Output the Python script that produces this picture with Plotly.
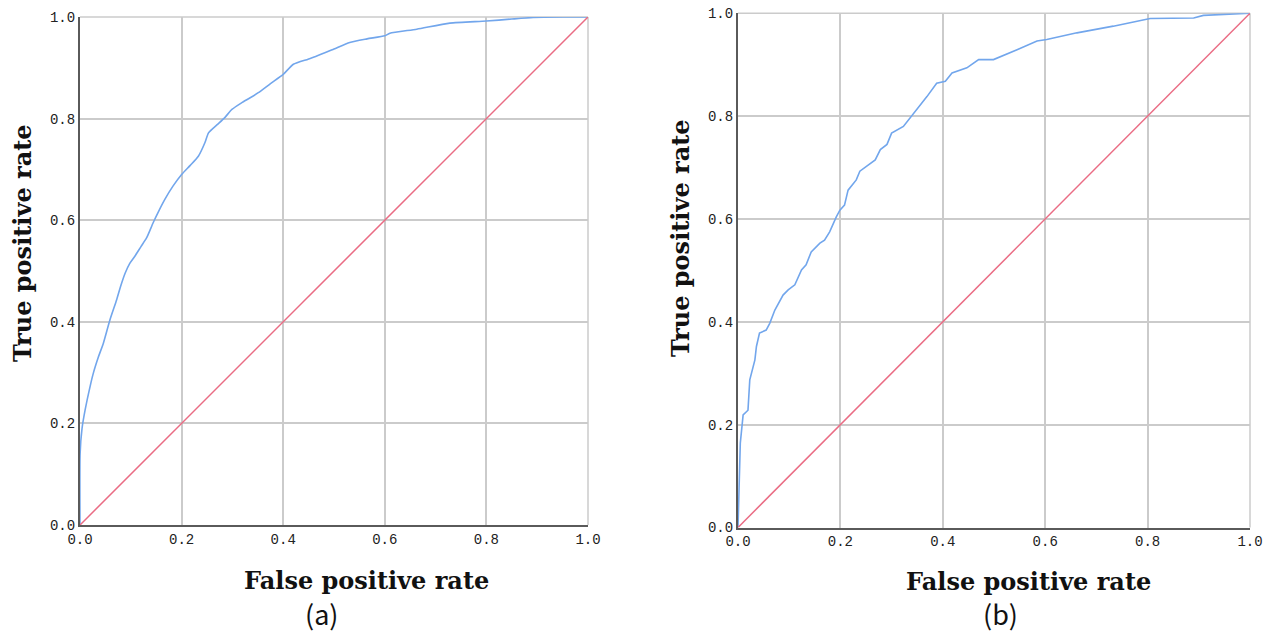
import plotly.graph_objects as go

# ROC curve (a)
fpr_a = [0.0, 0.0002, 0.004, 0.01, 0.0197, 0.026, 0.036, 0.046, 0.059, 0.072, 0.08, 0.089, 0.098,
         0.108, 0.12, 0.131, 0.144, 0.155, 0.167, 0.183, 0.2, 0.217, 0.233, 0.246, 0.253, 0.27,
         0.285, 0.299, 0.318, 0.335, 0.351, 0.375, 0.40, 0.42, 0.449, 0.466, 0.5, 0.531, 0.565,
         0.60, 0.61, 0.663, 0.728, 0.80, 0.85, 0.892, 0.95, 1.0]
tpr_a = [0.0, 0.14, 0.19, 0.226, 0.272, 0.298, 0.33, 0.358, 0.404, 0.443, 0.47, 0.496, 0.515,
         0.529, 0.548, 0.565, 0.595, 0.618, 0.641, 0.667, 0.69, 0.708, 0.726, 0.753, 0.772, 0.788,
         0.802, 0.818, 0.831, 0.841, 0.851, 0.869, 0.887, 0.907, 0.917, 0.923, 0.937, 0.95, 0.957,
         0.963, 0.968, 0.976, 0.988, 0.992, 0.996, 0.999, 1.0, 1.0]

# ROC curve (b)
fpr_b = [0.0, 0.003, 0.0045, 0.01, 0.0195, 0.023, 0.033, 0.036, 0.042, 0.055, 0.062, 0.072,
         0.088, 0.098, 0.111, 0.124, 0.133, 0.143, 0.16, 0.169, 0.179, 0.192, 0.199, 0.208,
         0.215, 0.231, 0.238, 0.268, 0.278, 0.291, 0.30, 0.323, 0.336, 0.352, 0.369, 0.388,
         0.405, 0.418, 0.447, 0.47, 0.499, 0.545, 0.584, 0.603, 0.662, 0.733, 0.773, 0.805,
         0.89, 0.909, 1.0]
tpr_b = [0.0, 0.105, 0.164, 0.219, 0.228, 0.287, 0.326, 0.352, 0.378, 0.384, 0.397, 0.423,
         0.452, 0.462, 0.472, 0.501, 0.511, 0.536, 0.553, 0.559, 0.575, 0.604, 0.617, 0.627,
         0.656, 0.676, 0.693, 0.715, 0.735, 0.745, 0.767, 0.780, 0.796, 0.816, 0.838, 0.864,
         0.868, 0.884, 0.894, 0.91, 0.91, 0.929, 0.946, 0.949, 0.962, 0.975, 0.983, 0.99,
         0.991, 0.996, 1.0]

diag = [0.0, 1.0]
tick_vals = [0.0, 0.2, 0.4, 0.6, 0.8, 1.0]
tick_text = ["0.0", "0.2", "0.4", "0.6", "0.8", "1.0"]
x_title = "False positive rate"
y_title = "True positive rate"
panel_labels = ["(a)", "(b)"]

W, H = 1282, 634
BLUE = "#72a6ec"
RED = "#ea6c84"
GRID = "#cbcbcb"
AXIS = "#5a5a5a"

fig = go.Figure()
fig.add_trace(go.Scatter(x=fpr_a, y=tpr_a, mode="lines", line=dict(color=BLUE, width=1.6, shape="spline", smoothing=0.6),
                         xaxis="x", yaxis="y", showlegend=False))
fig.add_trace(go.Scatter(x=diag, y=diag, mode="lines", line=dict(color=RED, width=1.5),
                         xaxis="x", yaxis="y", showlegend=False))
fig.add_trace(go.Scatter(x=fpr_b, y=tpr_b, mode="lines", line=dict(color=BLUE, width=1.6),
                         xaxis="x2", yaxis="y2", showlegend=False))
fig.add_trace(go.Scatter(x=diag, y=diag, mode="lines", line=dict(color=RED, width=1.5),
                         xaxis="x2", yaxis="y2", showlegend=False))

tickfont = dict(family="Liberation Mono, DejaVu Sans Mono, monospace", size=14, color="#222")

def ax(domain, anchor):
    return dict(domain=domain, anchor=anchor, range=[0, 1], tickvals=tick_vals, ticktext=tick_text,
                showgrid=True, gridcolor=GRID, gridwidth=1.5, zeroline=False,
                showline=True, linecolor=AXIS, linewidth=2, ticks="", tickfont=tickfont,
                fixedrange=True, automargin=False)

# pixel-based domains
xa_dom = [80 / W, 588 / W]
ya_dom = [(H - 525) / H, (H - 17) / H]
xb_dom = [738 / W, 1250 / W]
yb_dom = [(H - 527.5) / H, (H - 13.3) / H]

fig.update_layout(
    width=W, height=H,
    margin=dict(l=0, r=0, t=0, b=0, pad=0),
    paper_bgcolor="white", plot_bgcolor="white",
    xaxis=ax(xa_dom, "y"), yaxis=ax(ya_dom, "x"),
    xaxis2=ax(xb_dom, "y2"), yaxis2=ax(yb_dom, "x2"),
)

# top/right borders in grid colour
for xr, yr in [("x", "y"), ("x2", "y2")]:
    fig.add_shape(type="line", xref=xr + " domain", yref=yr + " domain", x0=0, x1=1, y0=1, y1=1,
                  line=dict(color=GRID, width=1.5), layer="below")
    fig.add_shape(type="line", xref=xr + " domain", yref=yr + " domain", x0=1, x1=1, y0=0, y1=1,
                  line=dict(color=GRID, width=1.5), layer="below")

title_font = dict(family="DejaVu Serif, Liberation Serif, serif", size=24, color="#111")
label_font = dict(family="Noto Sans CJK SC, Noto Sans, sans-serif", size=27, color="#111")

def ann(text, px, py, font, angle=0, xanchor="center"):
    fig.add_annotation(text=text, x=px / W, y=1 - py / H, xref="paper", yref="paper",
                       showarrow=False, xanchor=xanchor, yanchor="middle", font=font,
                       textangle=angle)

ann("<b>" + x_title + "</b>", 366, 580, title_font)
ann("<b>" + x_title + "</b>", 1028, 581, title_font)
ann("<b>" + y_title + "</b>", 22, 243, title_font, -90)
ann("<b>" + y_title + "</b>", 680, 238, title_font, -90)
ann(panel_labels[0], 322, 613, label_font)
ann(panel_labels[1], 1000, 613, label_font)

fig.write_html("out.html", config={"displayModeBar": False},
               post_script="document.body.style.margin='0';document.body.style.overflow='hidden';")
